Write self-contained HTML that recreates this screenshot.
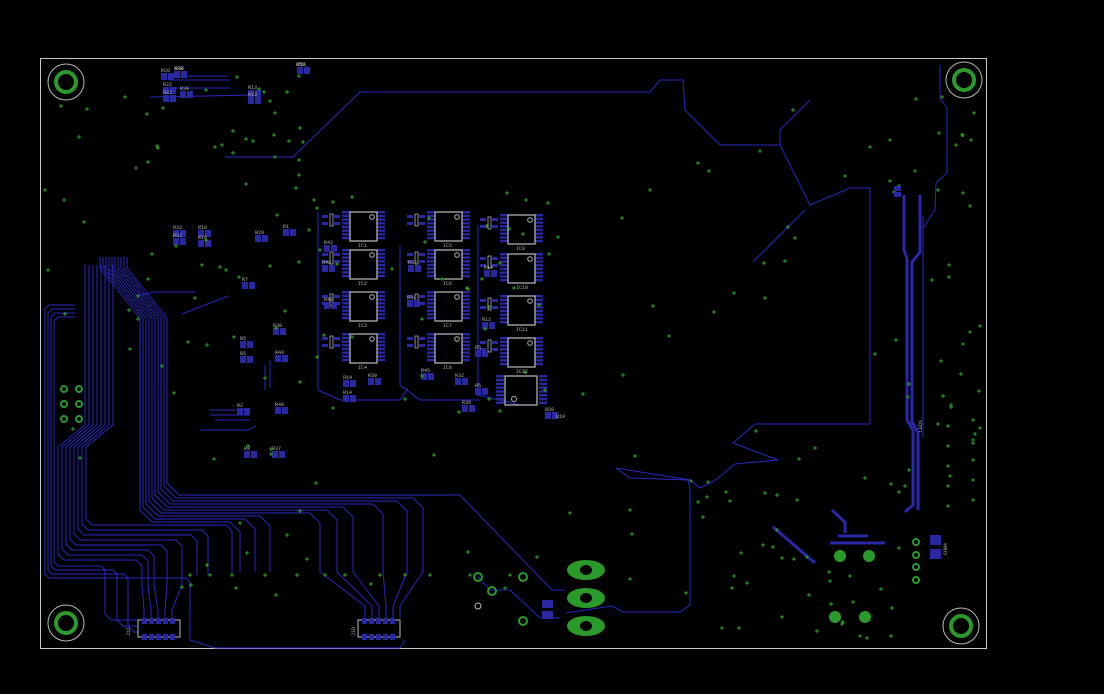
<!DOCTYPE html>
<html><head><meta charset="utf-8"><style>
html,body{margin:0;padding:0;background:#000;width:1104px;height:694px;overflow:hidden}
svg{display:block}
text{font-family:"Liberation Mono",monospace;font-size:5px;fill:#b0b0b0}
</style></head><body>
<svg id="s" width="1104" height="694" viewBox="0 0 1104 694" xmlns="http://www.w3.org/2000/svg">
<rect x="40.5" y="58.5" width="946" height="590" fill="none" stroke="#c8c8c8" stroke-width="1"/>
<g fill="none" stroke="#b8b8b8" stroke-width="1">
<circle cx="66" cy="82" r="18"/><circle cx="964" cy="80" r="18"/><circle cx="66" cy="623" r="18"/><circle cx="961" cy="626" r="18"/>
</g>
<g fill="none" stroke="#2a9a2a" stroke-width="4">
<circle cx="66" cy="82" r="10"/><circle cx="964" cy="80" r="10"/><circle cx="66" cy="623" r="10"/><circle cx="961" cy="626" r="10"/>
</g>
<g id="tr" fill="none" stroke="#2828c0" stroke-width="1">
<polyline points="225,157 293,157 360,92 650,92 660,80 683,80 685,110 720,145 780,145 810,205 850,188 870,188 870,424 755,424 733,443 778,460 735,464 713,482 700,488 690,480 616,468 630,478 688,480 690,490 690,605 680,612 623,612 612,606 565,613"/>
<polyline points="810,100 780,130 780,145"/>
<polyline points="753,262 805,210"/>
<polyline points="940,65 940,98 947,108 947,173 936,183 935,210 923,228"/>
<polyline points="923,216 923,438"/>
<polyline points="182,314 228,296"/>
<polyline points="140,295 155,292 195,292"/>
<polyline points="255,95 150,97"/><polyline points="230,88 165,88"/><polyline points="228,76 170,76"/><polyline points="230,80 170,80"/>
<polyline points="440,495 460,495 552,590 565,590"/>
<polyline points="478,577 490,590 510,590 540,618 560,618"/>
<polyline points="318,212 318,390 340,400 400,400 408,388"/>
<polyline points="400,245 400,385 420,400 480,400"/>
<polyline points="478,225 478,395 520,405 500,400"/>
<polyline points="265,365 265,390"/><polyline points="270,360 270,388"/>
<polyline points="210,410 250,410"/><polyline points="210,415 250,415"/><polyline points="215,420 250,420"/>
<polyline points="200,430 248,430 256,426"/>
</g>
<g id="thick" fill="none" stroke="#2828a8" stroke-width="3">
<polyline points="904,195 904,250 907,258 907,420 913,430 913,505 905,512"/>
<polyline points="920,195 920,252 912,262 912,422 918,432 918,510"/>
<polyline points="773,527 815,563"/>
<polyline points="832,510 845,522 845,533"/>
<polyline points="838,536 868,536"/><polyline points="830,543 885,543"/>
</g>
<g id="dyn"></g>
<g fill="#2a9a2a">
<ellipse cx="586" cy="570" rx="19" ry="10"/><ellipse cx="586" cy="598" rx="19" ry="10"/><ellipse cx="586" cy="626" rx="19" ry="10"/>
</g>
<g fill="#000"><ellipse cx="586" cy="570" rx="6" ry="5"/><ellipse cx="586" cy="598" rx="6" ry="5"/><ellipse cx="586" cy="626" rx="6" ry="5"/></g>
<g fill="none" stroke="#2a9a2a" stroke-width="2">
<circle cx="478" cy="577" r="4"/><circle cx="523" cy="577" r="4"/><circle cx="492" cy="591" r="4"/><circle cx="523" cy="621" r="4"/>
<circle cx="916" cy="542" r="3"/><circle cx="916" cy="555" r="3"/><circle cx="916" cy="567" r="3"/><circle cx="916" cy="580" r="3"/>
<circle cx="64" cy="389" r="3"/><circle cx="79" cy="389" r="3"/><circle cx="64" cy="404" r="3"/><circle cx="79" cy="404" r="3"/><circle cx="64" cy="419" r="3"/><circle cx="79" cy="419" r="3"/>
</g>
<circle cx="478" cy="606" r="3" fill="none" stroke="#bbb"/>
<g fill="#2a9a2a"><circle cx="840" cy="556" r="6"/><circle cx="869" cy="556" r="6"/><circle cx="835" cy="617" r="6"/><circle cx="865" cy="617" r="6"/></g>
<g fill="#2828a0">
<rect x="542" y="600" width="11" height="8"/><rect x="542" y="611" width="11" height="8"/>
<rect x="930" y="535" width="11" height="10"/><rect x="930" y="549" width="11" height="10"/>
<rect x="894" y="186" width="7" height="5"/><rect x="894" y="192" width="7" height="5"/>
</g>
<text x="130" y="636" transform="rotate(-90 130 636)">J1C</text>
<text x="355" y="636" transform="rotate(-90 355 636)">J1D</text>
<text x="947" y="555" transform="rotate(-90 947 555)">CON4</text>
<text x="922" y="432" transform="rotate(-90 922 432)">LED1</text>
<text x="556" y="418">U10</text>
<text x="175" y="70">R40</text><text x="296" y="66">R50</text>
</svg>
<script>
var S="http://www.w3.org/2000/svg",D=document.getElementById("dyn");
function el(t,a){var e=document.createElementNS(S,t);for(var k in a)e.setAttribute(k,a[k]);D.appendChild(e);return e}
function pl(p,c,w){el("polyline",{points:p.join(" "),fill:"none",stroke:c||"#2828c0","stroke-width":w||1})}
function r(x,y,w,h,c){el("rect",{x:x,y:y,width:w,height:h,fill:c||"#2828a0"})}
var padsC2=[365,372,379,386,393,400];
// group B (10 lines)
var dropsB=[240,255,270,320,337,353,383,407,423];
for(var k=0;k<10;k++){
 var xv=140+k*3, yh=522-k*3, xt=100+k*3;
 var pts=[[xt,257],[xt,268],[xv,318],[xv,yh-12],[xv+12,yh]];
 if(k<9){var xd=dropsB[k];pts.push([xd-10,yh],[xd,yh+10],[xd,572]);
  if(k>=3){pts.push([padsC2[k-3],606],[padsC2[k-3],618]);}
 } else pts.push([440,yh]);
 pl(pts);
}
// group C (8 lines)
var dropsC=[142,148,154,167,182,197,208,232];
for(var j=0;j<8;j++){
 var xt=85+j*4, xb=58+j*4, yh=560-j*5, xd=dropsC[j];
 var pts=[[xt,265],[xt,425],[xb,447],[xb,yh-6],[xb+6,yh],[xd-6,yh],[xd,yh+6]];
 if(j<5){pts.push([xd,585],[144+j*7,610],[144+j*7,618]);} else pts.push([xd,575]);
 pl(pts);
}
// group A (4 outer lines)
var dropsA=[190,128,117,105];
for(var i=0;i<4;i++){
 var x=45+i*3, yt=305+i*4, yb=578-i*4, xd=dropsA[i];
 var pts=[[75,yt],[x+4,yt],[x,yt+4],[x,yb-4],[x+4,yb],[xd-4,yb],[xd,yb+4]];
 if(i==0)pts.push([xd,640],[215,648],[400,648],[405,640]);
 else pts.push([xd,632-i*6],[xd+6,638-i*6],[138,638-i*6]);
 pl(pts);
}
// connectors
[[142,618],[362,618]].forEach(function(c){
 el("rect",{x:c[0]-4,y:c[1]+2,width:42,height:17,fill:"none",stroke:"#bbb"});
 for(var k=0;k<5;k++){r(c[0]+k*7,c[1],5,6);r(c[0]+k*7,c[1]+16,5,6);}
});
// chips
function chip(x,y,lbl){
 for(var k=0;k<8;k++){r(x-8,y-1+k*3.7,8,2.4);r(x+27,y-1+k*3.7,8,2.4);}
 el("rect",{x:x,y:y,width:27,height:29,fill:"none",stroke:"#b0b0b0","stroke-width":1.3});
 el("circle",{cx:x+22,cy:y+5,r:2.3,fill:"none",stroke:"#b0b0b0"});
 var t=el("text",{x:x+8,y:y+35});t.textContent=lbl;
 el("rect",{x:x-20,y:y+2,width:3,height:12,fill:"none",stroke:"#b0b0b0","stroke-width":0.8});
 r(x-28,y+3,6,3);r(x-28,y+10,6,3);r(x-16,y+3,6,3);r(x-16,y+10,6,3);
}
var n=1;
[212,250,292,334].forEach(function(y){chip(350,y,"IC"+(n++))});
[212,250,292,334].forEach(function(y){chip(435,y,"IC"+(n++))});
[215,254,296,338].forEach(function(y){chip(508,y,"IC"+(n++))});
for(var k=0;k<8;k++){r(496,375+k*3.8,8,2.5);r(539,375+k*3.8,8,2.5);}
el("rect",{x:505,y:376,width:32,height:29,fill:"none",stroke:"#b0b0b0","stroke-width":1.3});
el("circle",{cx:514,cy:399,r:2.5,fill:"none",stroke:"#b0b0b0"});
var pads=[[161,73],[174,71],[163,87],[163,95],[180,91],[248,90],[248,97],[297,67],[173,230],[198,230],[198,240],[173,238],[255,235],[283,229],[242,282],[240,341],[240,356],[273,328],[275,355],[237,408],[275,407],[244,451],[272,451],[343,380],[343,395],[455,378],[475,388],[475,350],[484,270],[482,322],[324,245],[322,265],[324,302],[407,300],[408,265],[462,405],[421,373],[368,378],[545,412]];
pads.forEach(function(p){r(p[0],p[1],6,7);r(p[0]+7,p[1],6,7);
 var t=el("text",{x:p[0],y:p[1]-1});t.textContent="R"+(p[0]%47);});
var seed=7;function rnd(){seed=(seed*16807)%2147483647;return seed/2147483647}
function cross(x,y){pl([[x-2,y],[x+2,y]],"#2aa02a",1);pl([[x,y-2],[x,y+2]],"#2aa02a",1);}
var zones=[[45,70,320,200,22],[45,200,300,480,35],[180,450,690,600,22],[560,100,870,480,22],[690,480,900,640,40],[870,90,985,520,40],[300,190,560,420,40],[100,60,330,160,12]];
zones.forEach(function(z){for(var k=0;k<z[4];k++)cross(Math.round(z[0]+rnd()*(z[2]-z[0])),Math.round(z[1]+rnd()*(z[3]-z[1])));});
for(var y=420;y<520;y+=20){cross(973,y);cross(948,y+6)}
[190,210,232,265,297,325,345,380,405,430,470,510].forEach(function(x){cross(x,575)});
</script>
</body></html>
